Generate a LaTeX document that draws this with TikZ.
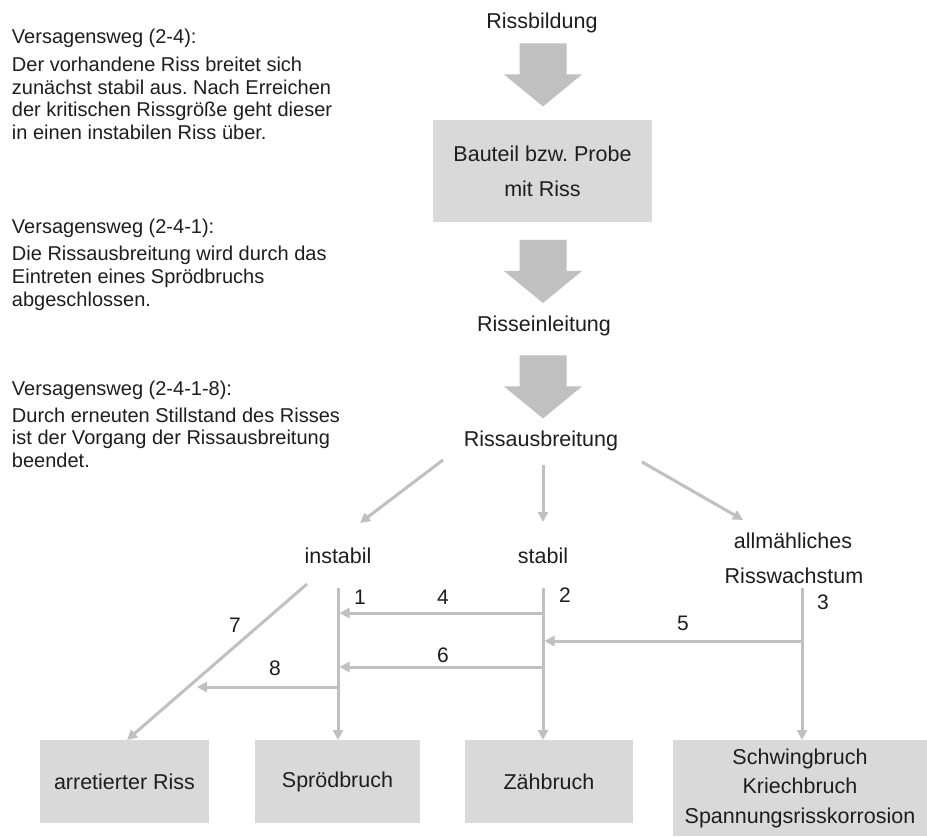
\documentclass[tikz,border=0pt]{standalone}
\usepackage{fontspec}
\setmainfont{Liberation Sans}
\usetikzlibrary{arrows.meta,calc}
\definecolor{arrowgray}{HTML}{C0C0C0}
\definecolor{boxgray}{HTML}{D9D9D9}
\definecolor{txtcol}{HTML}{1E1E1E}
\frenchspacing
\begin{document}
\begin{tikzpicture}[x=1pt,y=-1pt,
  every node/.style={inner sep=0pt, outer sep=0pt, text=txtcol},
  lefttext/.style={anchor=base west, font=\fontsize{20}{20}\selectfont},
  centertext/.style={anchor=base, font=\fontsize{21.5}{21.5}\selectfont},
  numlabel/.style={anchor=center, font=\fontsize{21}{21}\selectfont},
  graybox/.style={fill=boxgray, align=center, font=\fontsize{21.5}{35}\selectfont},
  thinarrow/.style={draw=arrowgray, line width=3pt, -{Triangle[length=10pt,width=10pt]}},
  pics/bigarrow/.style={code={
    \fill[arrowgray] (-23.5,0) -- (23.5,0) -- (23.5,31) -- (39,31) -- (0,63)
      -- (-39,31) -- (-23.5,31) -- cycle;}}
]
\useasboundingbox (0,0) rectangle (927,837);
\fill[white] (0,0) rectangle (927,837);

% ---- left explanatory texts ----
\node[lefttext] (h1) at (12,44) {Versagensweg (2-4):};
\node[lefttext] (p1a) at (12,72) {Der vorhandene Riss breitet sich};
\node[lefttext] (p1b) at (12,94.5) {zunächst stabil aus. Nach Erreichen};
\node[lefttext] (p1c) at (12,117) {der kritischen Rissgröße geht dieser};
\node[lefttext] (p1d) at (12,139.5) {in einen instabilen Riss über.};

\node[lefttext] (h2) at (12,234) {Versagensweg (2-4-1):};
\node[lefttext] (p2a) at (12,261) {Die Rissausbreitung wird durch das};
\node[lefttext] (p2b) at (12,283.5) {Eintreten eines Sprödbruchs};
\node[lefttext] (p2c) at (12,306) {abgeschlossen.};

\node[lefttext] (h3) at (12,395) {Versagensweg (2-4-1-8):};
\node[lefttext] (p3a) at (12,422) {Durch erneuten Stillstand des Risses};
\node[lefttext] (p3b) at (12,444.5) {ist der Vorgang der Rissausbreitung};
\node[lefttext] (p3c) at (12,467) {beendet.};

% ---- main column ----
\node[centertext] (rb) at (542,29) {Rissbildung};
\node[graybox, minimum width=219pt, minimum height=102pt] (bt) at (542.5,171)
  {Bauteil bzw. Probe\\mit Riss};
\node[centertext] (rein) at (544,331) {Risseinleitung};
\node[centertext] (ra) at (541,446) {Rissausbreitung};

\path ($(rb.south)+(1,10)$) pic {bigarrow};
\path ($(bt.south)+(0.5,18)$) pic {bigarrow};
\path ($(rein.south)+(-1,20)$) pic {bigarrow};

% ---- second level ----
\node[centertext] (inst) at (338,563) {instabil};
\node[centertext] (stab) at (543,563) {stabil};
\node[centertext] (aw1) at (793,548) {allmähliches};
\node[centertext] (aw2) at (794,583) {Risswachstum};

\draw[thinarrow] ($(ra.south)+(-98,9.5)$) -- ($(inst.north)+(22,-24.5)$);
\draw[thinarrow] ($(ra.south)+(2,14.5)$) -- ($(stab.north)+(0,-25.5)$);
\draw[thinarrow] ($(ra.south)+(101,11.5)$) -- ($(aw1.north)+(-50,-12.5)$);

% ---- bottom boxes ----
\node[graybox, minimum width=169pt, minimum height=83pt] (ar) at (124.5,781.5) {arretierter Riss};
\node[graybox, minimum width=165pt, minimum height=83pt] (spr) at (337.5,781.5) {Sprödbruch};
\node[graybox, minimum width=168pt, minimum height=83pt] (zb) at (549,781.5) {Zähbruch};
\node[graybox, font=\fontsize{21.5}{29.5}\selectfont, minimum width=254pt, minimum height=96pt] (sw) at (800,788)
  {Schwingbruch\\Kriechbruch\\Spannungsrisskorrosion};

% ---- vertical paths ----
\coordinate (i0) at ($(inst.base)+(0,25)$);
\coordinate (s0) at ($(stab.base)+(0,25)$);
\coordinate (w0) at ($(aw2.base)+(8,5)$);

\draw[thinarrow] (i0) -- (i0 |- spr.north);
\draw[thinarrow] (s0) -- (s0 |- zb.north);
\draw[thinarrow] (w0) -- (w0 |- sw.north);

% ---- cross paths ----
\draw[thinarrow] ($(s0)+(0,25)$) -- ($(i0)+(1.5,25)$);
\draw[thinarrow] ($(s0)+(0,79)$) -- ($(i0)+(1.5,79)$);
\draw[thinarrow] ($(w0)+(0,53)$) -- ($(s0)+(1.5,53)$);
\draw[thinarrow] ($(i0)+(0,99)$) -- ($(i0)+(-141,99)$);
\draw[thinarrow] ($(i0)+(-31,-4)$) -- ($(ar.north)+(2.5,0)$);

% ---- number labels ----
\node[numlabel] (n1) at (360,597) {1};
\node[numlabel] (n2) at (565,595) {2};
\node[numlabel] (n3) at (823,602) {3};
\node[numlabel] (n4) at (443,597) {4};
\node[numlabel] (n5) at (683,623) {5};
\node[numlabel] (n6) at (443,655) {6};
\node[numlabel] (n7) at (235,625) {7};
\node[numlabel] (n8) at (275,668) {8};
\end{tikzpicture}
\end{document}
